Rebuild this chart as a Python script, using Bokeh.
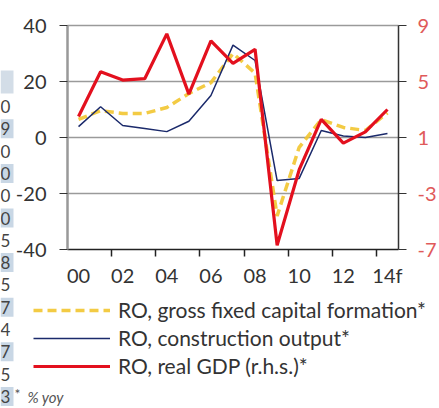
from bokeh.plotting import figure
from bokeh.models import Range1d, LinearAxis, FixedTicker, Legend, LegendItem
from bokeh.embed import file_html
from bokeh.resources import INLINE
from bokeh.core.properties import value

# ---- data ----
years = list(range(2000, 2015))
x_tick_labels = ["00", "02", "04", "06", "08", "10", "12", "14f"]
gfcf = [6.5, 9.6, 8.6, 8.6, 10.7, 15.7, 19.6, 30.0, 23.0, -28.0, -3.5, 6.4, 3.6, 2.5, 8.8]
construction = [3.9, 11.0, 4.3, 3.2, 2.1, 5.8, 15.0, 33.0, 27.5, -15.4, -14.6, 2.5, 0.5, 0.0, 1.4]
gdp = [2.5, 5.7, 5.1, 5.2, 8.4, 4.1, 7.9, 6.3, 7.3, -6.7, -1.3, 2.3, 0.6, 1.4, 3.0]
left_ticks = [-40, -20, 0, 20, 40]
right_ticks = [-7, -3, 1, 5, 9]
series_names = ["RO, gross fixed capital formation*", "RO, construction output*",
                "RO, real GDP (r.h.s.)*"]
table_digits = ["0", "9", "0", "0", "0", "0", "5", "8", "5", "7", "4", "7", "5", "3"]
note_star = "*"
note_text = "% yoy"

FONT = "Lato"
W, H = 439, 408
FL, FR, FT, FB = 67, 398, 25, 249   # plot-area edges in pixels

# pixel <-> data helpers (frame covers the whole canvas)
x0, x1 = years[0] - 0.5, years[-1] + 0.5
xs = (FR - FL) / (x1 - x0)
ys = (FB - FT) / (left_ticks[-1] - left_ticks[0])
rs = (FB - FT) / (right_ticks[-1] - right_ticks[0])


def xd(px):
    return x0 + (px - FL) / xs


def yd(py):
    return left_ticks[-1] - (py - FT) / ys


def rd(py):
    return right_ticks[-1] - (py - FT) / rs


p = figure(width=W, height=H, output_backend="svg", toolbar_location=None,
           x_range=Range1d(xd(0), xd(W)), y_range=Range1d(yd(H), yd(0)),
           min_border=0, min_border_left=0, min_border_right=0,
           min_border_top=0, min_border_bottom=0)
p.outline_line_color = None
p.background_fill_color = "white"
p.border_fill_color = "white"
p.extra_y_ranges = {"gdp": Range1d(rd(H), rd(0))}
p.xgrid.visible = False
p.ygrid.visible = False

# horizontal reference lines (incl. top border at 40)
p.segment(x0=x0, x1=x1, y0=left_ticks[1:], y1=left_ticks[1:],
          line_color="#9a9a9a", line_width=1.5)

# x axis
xa = p.xaxis[0]
even = years[::2]
xa.fixed_location = left_ticks[0]
xa.bounds = (x0, x1)
xa.ticker = FixedTicker(ticks=even, minor_ticks=[y + 1.5 for y in even[:-1]])
xa.major_label_overrides = {y: lab for y, lab in zip(even, x_tick_labels)}
xa.major_tick_out = 0
xa.major_tick_in = 0
xa.minor_tick_out = 7
xa.minor_tick_in = 0
xa.minor_tick_line_color = "#222222"
xa.minor_tick_line_width = 1.5
xa.axis_line_color = "#222222"
xa.axis_line_width = 1.5
xa.major_label_standoff = 6
xa.major_label_text_font = FONT
xa.major_label_text_font_size = "20px"
xa.major_label_text_color = "#333333"

# left y axis
ya = p.yaxis[0]
ya.fixed_location = x0
ya.bounds = (left_ticks[0], left_ticks[-1])
ya.ticker = FixedTicker(ticks=left_ticks)
ya.major_label_overrides = {t: str(t) for t in left_ticks}
ya.major_tick_out = 8
ya.major_tick_in = 0
ya.minor_tick_out = 0
ya.minor_tick_in = 0
ya.major_tick_line_color = "#333333"
ya.axis_line_color = "#999999"
ya.axis_line_width = 2.5
ya.major_label_standoff = 13
ya.major_label_text_font = FONT
ya.major_label_text_font_size = "20px"
ya.major_label_text_color = "#333333"

# right y axis
ra = LinearAxis(y_range_name="gdp", ticker=FixedTicker(ticks=right_ticks))
ra.fixed_location = x1
ra.bounds = (right_ticks[0], right_ticks[-1])
ra.major_label_overrides = {t: str(t) for t in right_ticks}
ra.major_tick_out = 8
ra.major_tick_in = 0
ra.minor_tick_out = 0
ra.minor_tick_in = 0
ra.major_tick_line_color = "#333333"
ra.axis_line_color = "#333333"
ra.axis_line_width = 1.5
ra.major_label_standoff = 11
ra.major_label_text_font = FONT
ra.major_label_text_font_size = "20px"
ra.major_label_text_color = "#e05a5a"
p.add_layout(ra, "right")

# series
r1 = p.line(years, gfcf, line_color="#f2c530", line_width=3.5, line_dash="9 5", line_alpha=0.9)
r2 = p.line(years, construction, line_color="#1b2a6b", line_width=1.5)
r3 = p.line(years, gdp, y_range_name="gdp", line_color="#e3101e", line_width=3.2)

legend = Legend(items=[LegendItem(label=series_names[0], renderers=[r1]),
                       LegendItem(label=series_names[1], renderers=[r2]),
                       LegendItem(label=series_names[2], renderers=[r3])],
                location=(33, 30), orientation="vertical",
                background_fill_alpha=0, border_line_color=None,
                padding=0, margin=0, spacing=3,
                glyph_width=77, glyph_height=22, label_height=22, label_standoff=8,
                label_text_font=FONT, label_text_font_size="21px",
                label_text_color="#333333")
p.add_layout(legend, "center")

# cut-off table strip at the left edge
row0, row_px = 106.0, 22.3
centers = [row0 + row_px * i for i in range(len(table_digits))]
odd_c = [c for i, c in enumerate(centers) if i % 2 == 1]
p.quad(left=xd(0), right=xd(13), top=[yd(c - 9.5) for c in odd_c],
       bottom=[yd(c + 9.5) for c in odd_c], fill_color="#c9d7e5", line_color=None)
p.quad(left=xd(0), right=xd(13), top=yd(70), bottom=yd(93),
       fill_color="#d3dde7", line_color=None)
p.text(x=[xd(0)] * len(table_digits), y=[yd(c) for c in centers], text=table_digits,
       text_font=value(FONT), text_font_size="17px", text_color="#444444",
       text_align="left", text_baseline="middle")

# footnote
p.text(x=[xd(14)], y=[yd(393)], text=[note_star], text_font=value(FONT),
       text_font_size="14px", text_color="#555555", text_align="left",
       text_baseline="middle")
p.text(x=[xd(27)], y=[yd(396)], text=[note_text], text_font=value(FONT),
       text_font_size="15px", text_font_style="italic", text_color="#555555",
       text_align="left", text_baseline="middle")

open("out.html", "w").write(file_html(p, INLINE))
